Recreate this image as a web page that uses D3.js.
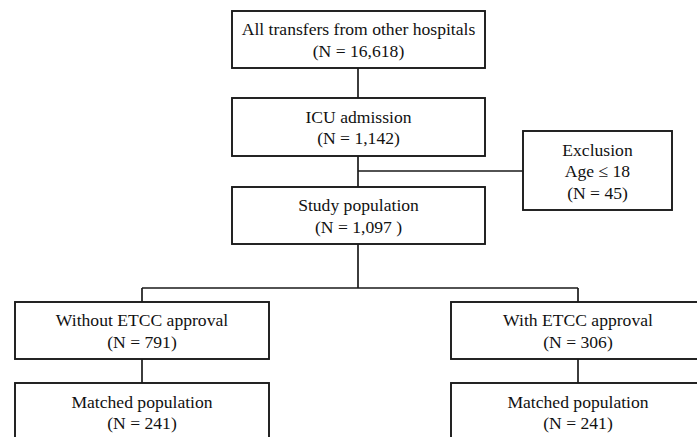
<!DOCTYPE html>
<html>
<head>
<meta charset="utf-8">
<script src="https://cdn.jsdelivr.net/npm/d3@7"></script>
<style>
  html, body { margin: 0; padding: 0; background: #fff; }
  svg { display: block; }
</style>
</head>
<body>
<svg id="chart" width="697" height="437"></svg>
<script>
// ---- Data ----
const stageLabels = [
  "All transfers from other hospitals",
  "ICU admission",
  "Study population",
  "Without ETCC approval",
  "With ETCC approval",
  "Matched population",
  "Matched population"
];
const stageCounts = ["(N = 16,618)", "(N = 1,142)", "(N = 1,097 )", "(N = 791)", "(N = 306)", "(N = 241)", "(N = 241)"];
const exclusionLines = ["Exclusion", "Age \u2264 18", "(N = 45)"];

// ---- Layout ----
const svg = d3.select("#chart");
const stroke = "#1a1a1a";
const font = "'Liberation Serif', 'Times New Roman', serif";
const fs = 17.6;
const lh = 21.5;

// box geometry (x0, y0, x1, y1)
const boxes = [
  [232, 11, 485, 68],
  [232, 98, 485, 156],
  [232, 187, 485, 244],
  [15, 302, 269, 359],
  [451, 302, 705, 359],
  [15, 383, 269, 441],
  [451, 383, 705, 441]
];
const exclBox = [523, 131, 672, 210];

const g = svg.append("g");

// connectors
const lines = [
  [[358, 68], [358, 98]],
  [[358, 156], [358, 187]],
  [[358, 171], [523, 171]],
  [[358, 244], [358, 288]],
  [[142, 288], [578, 288]],
  [[142, 288], [142, 302]],
  [[578, 288], [578, 302]],
  [[142, 359], [142, 383]],
  [[578, 359], [578, 383]]
];
const lineGen = d3.line();
g.selectAll("path.conn").data(lines).join("path")
  .attr("class", "conn")
  .attr("d", d => lineGen(d))
  .attr("fill", "none")
  .attr("stroke", stroke)
  .attr("stroke-width", 1.7);

// boxes
const nodes = stageLabels.map((lab, i) => ({ lines: [lab, stageCounts[i]], box: boxes[i] }));
nodes.push({ lines: exclusionLines, box: exclBox });

const ng = g.selectAll("g.node").data(nodes).join("g").attr("class", "node");
ng.append("rect")
  .attr("x", d => d.box[0])
  .attr("y", d => d.box[1])
  .attr("width", d => d.box[2] - d.box[0])
  .attr("height", d => d.box[3] - d.box[1])
  .attr("fill", "#fff")
  .attr("stroke", stroke)
  .attr("stroke-width", 1.9);

ng.each(function(d) {
  const cx = (d.box[0] + d.box[2]) / 2;
  const cy = (d.box[1] + d.box[3]) / 2;
  const n = d.lines.length;
  const mid = cy + 6.5;
  d3.select(this).selectAll("text").data(d.lines).join("text")
    .attr("x", cx)
    .attr("y", (t, i) => mid + (i - (n - 1) / 2) * lh)
    .attr("text-anchor", "middle")
    .attr("font-family", font)
    .attr("font-size", fs)
    .attr("fill", "#111")
    .text(t => t);
});
</script>
</body>
</html>
